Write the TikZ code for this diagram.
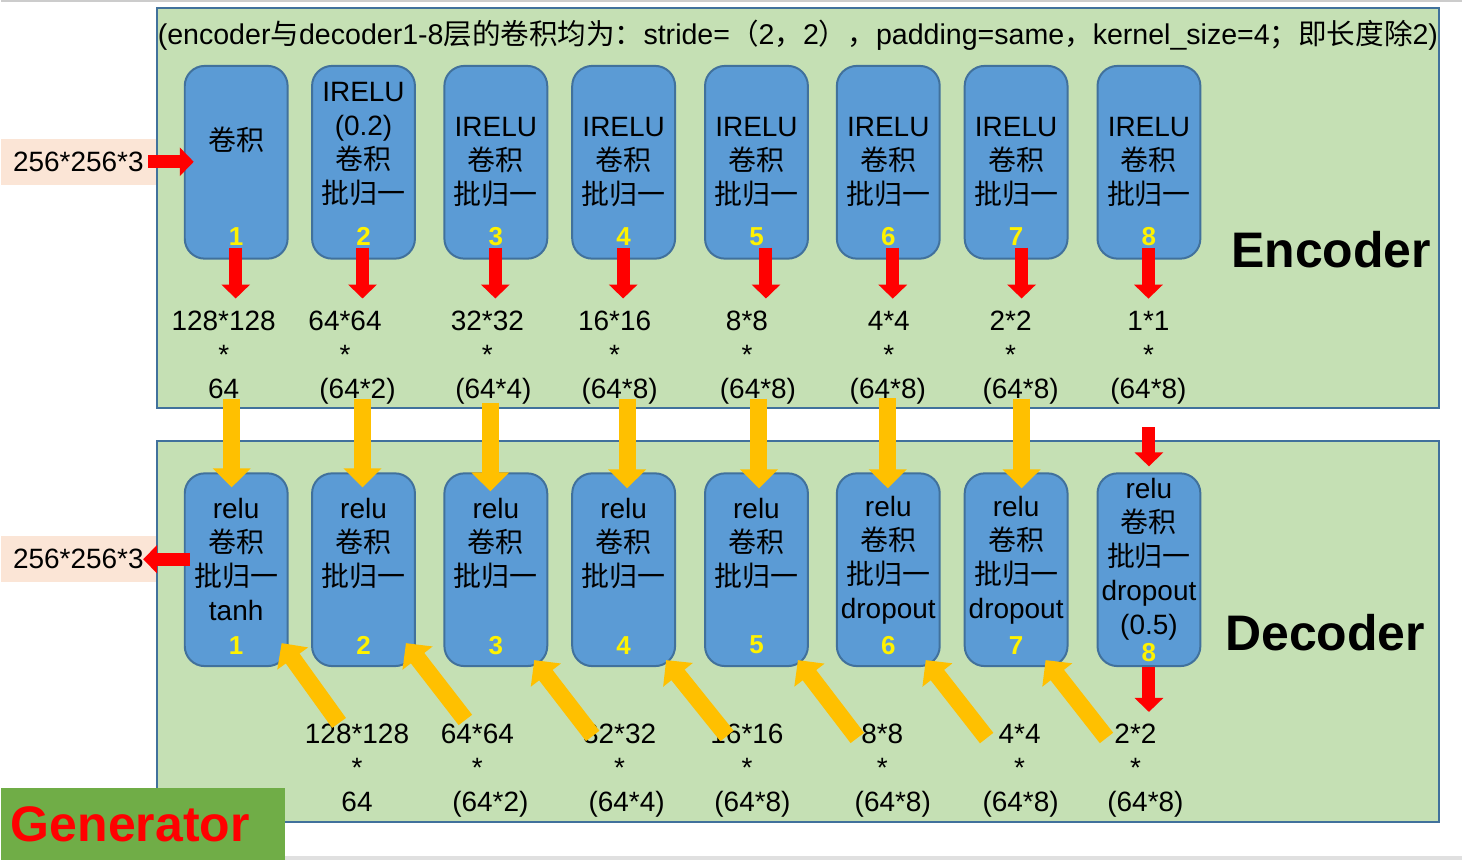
\documentclass[tikz,border=0pt]{standalone}
\usepackage{fontspec}
\setmainfont{Liberation Sans}
\newfontfamily\cjk{Noto Sans CJK SC}
\newcommand{\zh}[1]{{\cjk #1}}
\newcommand{\enclayer}{IRELU\\\zh{卷积}\\\zh{批归一}}
\newcommand{\declayer}{relu\\\zh{卷积}\\\zh{批归一}}
\usetikzlibrary{arrows.meta,calc}

\definecolor{panelgreen}{HTML}{C5E0B4}
\definecolor{edgeblue}{HTML}{41719C}
\definecolor{boxblue}{HTML}{5B9BD5}
\definecolor{skiporange}{HTML}{FFC000}
\definecolor{sizepeach}{HTML}{FBE5D6}
\definecolor{gengreen}{HTML}{70AD47}

\begin{document}
\begin{tikzpicture}[x=0.5pt, y=-0.5pt,
  every node/.style={font=\fontsize{14}{17}\selectfont, inner sep=0pt},
  panel/.style={draw=edgeblue, line width=1pt, fill=panelgreen},
  layer/.style={draw=edgeblue, line width=1pt, fill=boxblue, rounded corners=10pt,
    minimum width=51.5pt, minimum height=96.5pt},
  layer text/.style={align=center},
  layer num/.style={text=yellow, font=\fontsize{13}{13}\selectfont\bfseries},
  size/.style={align=center},
  sizebox/.style={fill=sizepeach, minimum width=77.5pt, minimum height=23pt},
  down/.style={draw=red, line width=6.5pt, -{Triangle[width=14pt, length=7pt]}},
  skip/.style={draw=skiporange, line width=8.5pt, -{Triangle[width=18.5pt, length=9.5pt]}},
  big/.style={font=\fontsize{25}{25}\selectfont\bfseries}]

  % page
  \fill[white] (0,0) rectangle (1463,861);
  \draw[black!20, line width=1pt] (0,1.5) -- (1463,1.5);
  \fill[black!12] (284,857) rectangle (1463,861);

  % panels
  \draw[panel] (156,8) rectangle (1440,409);
  \draw[panel] (156,442) rectangle (1440,823);

  \node[font=\fontsize{14.3}{17}\selectfont] (title) at (798,35) {(encoder\zh{与}decoder1-8\zh{层的卷积均为：}stride=\zh{（}2\zh{，}2\zh{），}padding=same\zh{，}kernel\_size=4\zh{；即长度除}2)};

  % encoder layers
  \foreach \i/\x/\s/\t in {1/235.5/22.5/{\zh{卷积}}, 2/363/18.5/{IRELU\\(0.2)\\\zh{卷积}\\\zh{批归一}},
      3/495.5/0.5/\enclayer, 4/623.5/0.5/\enclayer, 5/756.5/0.5/\enclayer,
      6/888.5/0.5/\enclayer, 7/1016.5/0.5/\enclayer, 8/1149.5/0.5/\enclayer}{
    \node[layer] (enc-\i) at (\x,162.5) {};
    \node[layer text] (enc-\i-text) at ($(enc-\i.center)+(0,-\s)$) {\t};
    \node[layer num] (enc-\i-num) at ($(enc-\i.south)+(0,-23)$) {\i};
  }

  % decoder layers
  \foreach \i/\x/\s/\n/\t in {1/235.5/10/22/{\declayer\\tanh}, 2/363/26.5/22/\declayer,
      3/495.5/26.5/22/\declayer, 4/623.5/26.5/22/\declayer, 5/756.5/26.5/22/\declayer,
      6/888.5/9.5/22/{\declayer\\dropout}, 7/1016.5/9.5/22/{\declayer\\dropout},
      8/1149.5/10.5/15/{\declayer\\dropout\\(0.5)}}{
    \node[layer] (dec-\i) at (\x,570.5) {};
    \node[layer text] (dec-\i-text) at ($(dec-\i.center)+(0,-\s)$) {\t};
    \node[layer num] (dec-\i-num) at ($(dec-\i.south)+(0,-\n)$) {\i};
  }

  % sizes
  \foreach \i/\x/\a/\c/\o in {1/223/128*128/64/0, 2/344.5/64*64/(64*2)/12.5,
      3/487/32*32/(64*4)/6, 4/614.5/16*16/(64*8)/5, 5/747/8*8/(64*8)/11,
      6/889/4*4/(64*8)/-1, 7/1011/2*2/(64*8)/10, 8/1149/1*1/(64*8)/0}
    \node[size] (encout-\i) at (\x,358) {\a\\*\\\hspace{\o pt}\c\vphantom{(}};

  \foreach \i/\x/\a/\c/\o in {1/356.5/128*128/64/0, 2/477/64*64/(64*2)/13,
      3/619.5/32*32/(64*4)/7, 4/747/16*16/(64*8)/5.5, 5/882.5/8*8/(64*8)/10.5,
      6/1020/4*4/(64*8)/1, 7/1136/2*2/(64*8)/10}
    \node[size] (decin-\i) at (\x,772) {\a\\*\\\hspace{\o pt}\c\vphantom{(}};

  \node[sizebox] (in) at (77.5,162) {256*256*3};
  \node[sizebox] (out) at (77.5,560) {256*256*3};

  \node[big] (enc-title) at (1332,250) {Encoder};
  \node[big] (dec-title) at (1326,634) {Decoder};

  \node[fill=gengreen, text=red, font=\fontsize{25}{25}\selectfont\bfseries,
    minimum height=36pt, text width=132pt, inner xsep=5pt, align=left] (gen) at (142,825) {Generator};

  % red arrows
  \draw[down] ($(in.east)+(-8,0)$) -- ($(in.east -| enc-1.west)+(10,0)$);
  \draw[down] ($(out.east -| dec-1.west)+(6,0)$) -- ($(out.east)+(-13,0)$);
  \foreach \i/\dx in {1/-0.5, 2/-1, 3/-0.5, 4/-0.5, 5/9.5, 6/4.5, 7/5.5, 8/-0.5}
    \draw[down] ($(enc-\i.south)+(\dx,-12)$) -- ($(encout-\i.north -| enc-\i.south)+(\dx,-12)$);
  \draw[down] ($(encout-8.south -| dec-8.north)+(0,23)$) -- ($(dec-8.north)+(0,-6)$);
  \draw[down] (dec-8.south) -- ($(decin-7.north -| dec-8.south)+(0,-12)$);

  % skip connections
  \foreach \i/\dx/\sy/\ey in {1/-4.5/-6/15, 2/-1/-6/15, 3/-5.5/-2/19, 4/3.5/-6/16,
      5/2.5/-6/16, 6/-0.5/-6/16, 7/5.5/-6/16}
    \draw[skip] ($(encout-\i.south -| dec-\i.north)+(\dx,\sy)$) -- ($(dec-\i.north)+(\dx,\ey)$);

  \foreach \i/\sx/\sy/\ex/\ey in {1/-18/-1/-7/-24, 2/-12/-4/-10/-24, 3/-27/12/-14/-7,
      4/-20/12/-10/-7, 5/-25/14/-11/-7, 6/-33/14/-15/-7, 7/-29/14/-23/-7}
    \draw[skip] ($(decin-\i.north)+(\sx,\sy)$) -- ($(dec-\i.south east)+(\ex,\ey)$);

\end{tikzpicture}
\end{document}
